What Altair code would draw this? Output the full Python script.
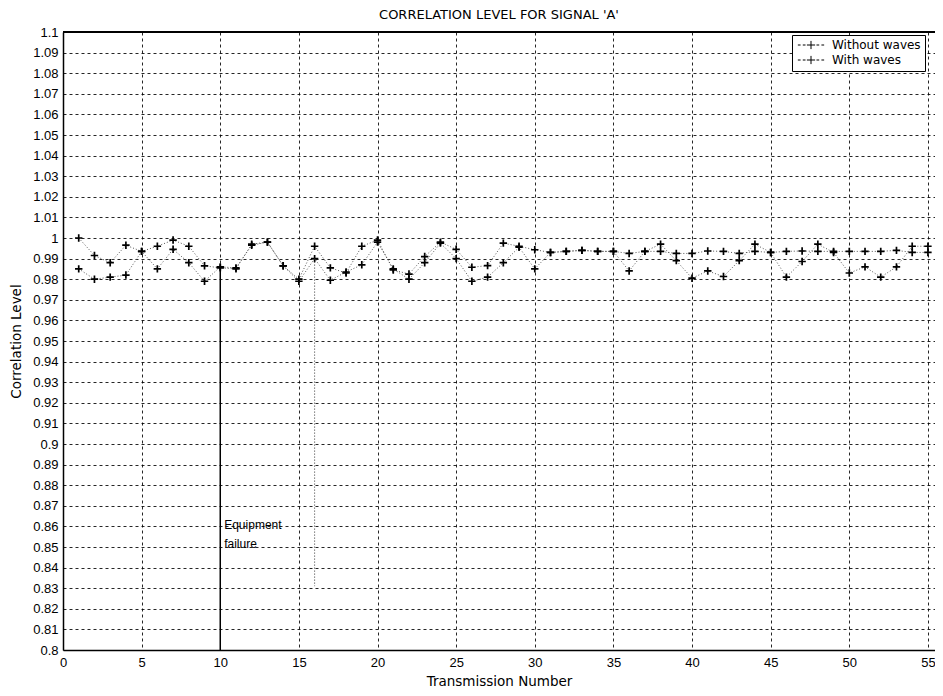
import altair as alt
import pandas as pd

# ---------------- data ----------------
transmission = list(range(1, 56))

without_waves = [
    1.000, 0.9915, 0.988, 0.9965, 0.9935, 0.996, 0.999, 0.996, 0.9865, 0.9855,
    0.985, 0.997, 0.998, 0.9865, 0.980, 0.996, 0.9855, 0.983, 0.996, 0.999,
    0.9845, 0.9825, 0.991, 0.998, 0.9945, 0.9858, 0.9866, 0.9975, 0.996, 0.9943,
    0.993, 0.9935, 0.994, 0.9935, 0.9935, 0.9925, 0.9935, 0.9935, 0.9925, 0.9925,
    0.9937, 0.9935, 0.9925, 0.9935, 0.993, 0.9935, 0.9937, 0.9935, 0.9935, 0.9935,
    0.9935, 0.9935, 0.994, 0.993, 0.993,
]

with_waves = [
    0.985, 0.980, 0.981, 0.982, 0.9935, 0.985, 0.9945, 0.988, 0.979, 0.986,
    0.9855, 0.9965, 0.998, 0.9865, 0.979, 0.990, 0.9795, 0.9835, 0.987, 0.998,
    0.985, 0.980, 0.988, 0.9975, 0.990, 0.979, 0.981, 0.988, 0.9955, 0.985,
    0.993, 0.9935, 0.994, 0.9935, 0.9935, 0.984, 0.9935, 0.997, 0.989, 0.9805,
    0.984, 0.9813, 0.989, 0.997, 0.993, 0.981, 0.9886, 0.997, 0.993, 0.983,
    0.986, 0.981, 0.986, 0.996, 0.996,
]

series_names = ["Without waves", "With waves"]

x_ticks = [0, 5, 10, 15, 20, 25, 30, 35, 40, 45, 50, 55]
y_ticks = [
    0.80, 0.81, 0.82, 0.83, 0.84, 0.85, 0.86, 0.87, 0.88, 0.89, 0.90,
    0.91, 0.92, 0.93, 0.94, 0.95, 0.96, 0.97, 0.98, 0.99, 1.00,
    1.01, 1.02, 1.03, 1.04, 1.05, 1.06, 1.07, 1.08, 1.09, 1.10,
]

# annotation: equipment failure markers
failure_x = [10, 16]
failure_top = [0.9855, 0.990]
failure_bottom = [0.80, 0.831]
failure_text = ["Equipment", "failure"]
failure_text_x = [10.25, 10.25]
failure_text_y = [0.8605, 0.8515]

# ---------------- tables ----------------
rows = []
for name, vals in zip(series_names, [without_waves, with_waves]):
    for t, v in zip(transmission, vals):
        rows.append({"t": t, "level": v, "series": name})
df = pd.DataFrame(rows)

ann = pd.DataFrame({"t": failure_x, "level": failure_top, "bottom": failure_bottom})
txt = pd.DataFrame({"t": failure_text_x, "level": failure_text_y, "label": failure_text})

FONT = "Liberation Sans"
WIDE = "DejaVu Sans"
W, H = 872, 618

xscale = alt.Scale(domain=[0, 55.45], nice=False, zero=False)
yscale = alt.Scale(domain=[0.8, 1.1], nice=False, zero=False)

x_axis = alt.Axis(
    values=x_ticks, title="Transmission Number", grid=True, ticks=False,
    labelPadding=6, titlePadding=5, labelFlush=False, labelOverlap=False,
)
y_axis = alt.Axis(
    values=y_ticks, format=".2~f", title="Correlation Level", grid=True,
    ticks=False, labelPadding=5, titlePadding=9, labelFlush=False,
    labelOverlap=False,
)

X = alt.X("t:Q", scale=xscale, axis=x_axis)
Y = alt.Y("level:Q", scale=yscale, axis=y_axis)

plus_path = "M-1,0H1M0,-1V1"
legend_path = "M-2.4,0H-1.9M-1.5,0H-1M-0.75,0H0.75M0,-0.75V0.75M1,0H1.5M1.9,0H2.4"

base = alt.Chart(df)

lines = base.mark_line(color="#555555", strokeWidth=1, strokeDash=[1, 2]).encode(
    x=X, y=Y, detail="series:N",
)

points = base.mark_point(shape=plus_path, filled=False, strokeWidth=1.7, size=55, opacity=1).encode(
    x=X,
    y=Y,
    color=alt.Color(
        "series:N",
        scale=alt.Scale(domain=series_names, range=["#000000", "#000000"]),
        sort=series_names,
        legend=alt.Legend(
            title=None, orient="none", legendX=729, legendY=3,
            symbolType=legend_path, symbolSize=120, symbolStrokeWidth=1,
            symbolOffset=9, labelFont=WIDE, labelFontSize=12, labelColor="#000",
            padding=4, strokeColor="#000", fillColor="#ffffff",
            cornerRadius=0, rowPadding=1, labelOffset=15,
        ),
    ),
)

fail_solid = alt.Chart(ann.iloc[[0]]).mark_rule(color="#000", strokeWidth=1.5).encode(
    x=X, y=Y, y2="bottom:Q"
)
fail_dotted = alt.Chart(ann.iloc[[1]]).mark_rule(color="#333", strokeWidth=1, strokeDash=[1, 2]).encode(
    x=X, y=Y, y2="bottom:Q"
)

labels = alt.Chart(txt).mark_text(align="left", baseline="middle", font=FONT, fontSize=12, color="#000").encode(
    x=X, y=Y, text="label:N"
)

top_border = alt.Chart(df).mark_rule(color="#000", strokeWidth=1.5).encode(
    x=alt.value(0), x2=alt.value(W), y=alt.value(0)
)

chart = (
    alt.layer(lines, points, fail_solid, fail_dotted, labels, top_border)
    .properties(
        width=W, height=H,
        title=alt.TitleParams(
            "CORRELATION LEVEL FOR SIGNAL 'A'", font=WIDE, fontSize=13,
            fontWeight="normal", color="#000", offset=4, anchor="middle",
        ),
        autosize=alt.AutoSizeParams(type="none"),
        padding={"left": 55, "top": 24, "right": 0, "bottom": 38},
    )
    .configure_view(stroke=None)
    .configure_axis(
        labelFont=FONT, titleFont=WIDE, labelFontSize=13, titleFontSize=13.5,
        titleFontWeight="normal", labelColor="#000", titleColor="#000",
        domainColor="#000", domainWidth=1.5, gridColor="#000",
        gridDash=[3, 3], gridOpacity=0.85, gridWidth=1,
    )
)

chart.save("out.html", embed_options={"renderer": "svg", "actions": False})
